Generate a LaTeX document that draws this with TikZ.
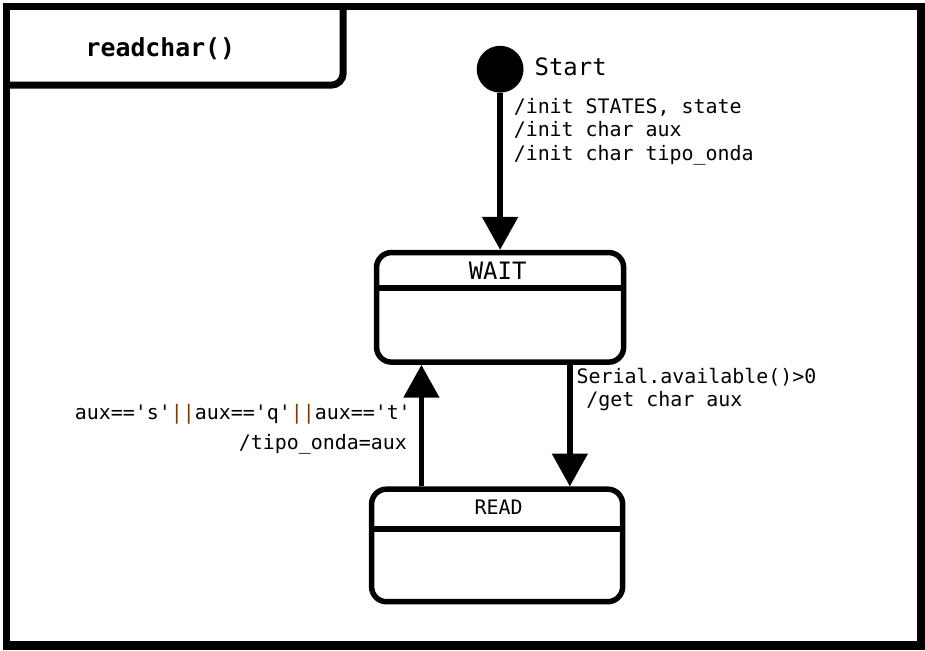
\documentclass[tikz,border=0pt]{standalone}
\usepackage{fontspec}
\setmonofont{DejaVu Sans Mono}
\usetikzlibrary{arrows.meta}
\definecolor{pipe}{RGB}{120,60,0}
\tikzset{
 statebox/.style={draw, line width=5.5pt, rounded corners=15pt, inner sep=0pt},
 divider/.style={line width=5.5pt},
 trans/.style={line width=5.5pt, -{Triangle[length=33pt,width=35pt]}},
 lbl/.style={font=\ttfamily\fontsize{20}{23.5}\selectfont, inner sep=0pt},
 big/.style={font=\ttfamily\fontsize{24}{28}\selectfont, inner sep=0pt},
}
\begin{document}
\begin{tikzpicture}[x=1pt,y=-1pt]
\fill[black] (0,0) rectangle (925,649);
\fill[white] (7,7) rectangle (917,640);
% title tab
\draw[line width=7pt, rounded corners=12pt] (0,82) -- (341,82) -- (341,0);
\node[big, font=\ttfamily\bfseries\fontsize{24.9}{28}\selectfont] (title) at (157.5,45) {readchar()};
% initial state
\node[circle, fill=black, minimum size=47pt, inner sep=0pt] (start) at (498.5,66) {};
\node[big, anchor=west] (startlbl) at (533,64) {Start};
\node[lbl, anchor=north west, align=left] (initlbl) at (512,95) {/init STATES, state\\/init char aux\\/init char tipo\_onda};
% states
\node[statebox, minimum width=248pt, minimum height=110pt] (wait) at (498.5,305) {};
\draw[divider] (wait.west |- 0,285.5) -- (wait.east |- 0,285.5);
\node[big] (waitname) at (496,268) {WAIT};
\node[statebox, minimum width=252pt, minimum height=113pt] (read) at (495.5,544) {};
\draw[divider] (read.west |- 0,527.5) -- (read.east |- 0,527.5);
\node[lbl] (readname) at (497,506) {READ};
% transitions
\draw[trans] (start) -- (wait);
\coordinate (lx) at (419.5,0);
\coordinate (rx) at (568.5,0);
\draw[trans] (lx |- read.north) -- (lx |- wait.south);
\draw[trans] (rx |- wait.south) -- (rx |- read.north);
% labels
\node[lbl, font=\ttfamily\fontsize{20}{23}\selectfont, anchor=north west, align=left] (serlbl) at (575,366) {Serial.available()>0\\\hspace*{10pt}/get char aux};
\node[lbl, anchor=east] (condlbl) at (409,412) {aux=='s'\textcolor{pipe}{||}aux=='q'\textcolor{pipe}{||}aux=='t'};
\node[lbl, anchor=east] (actlbl) at (405,442) {/tipo\_onda=aux};
\end{tikzpicture}
\end{document}
